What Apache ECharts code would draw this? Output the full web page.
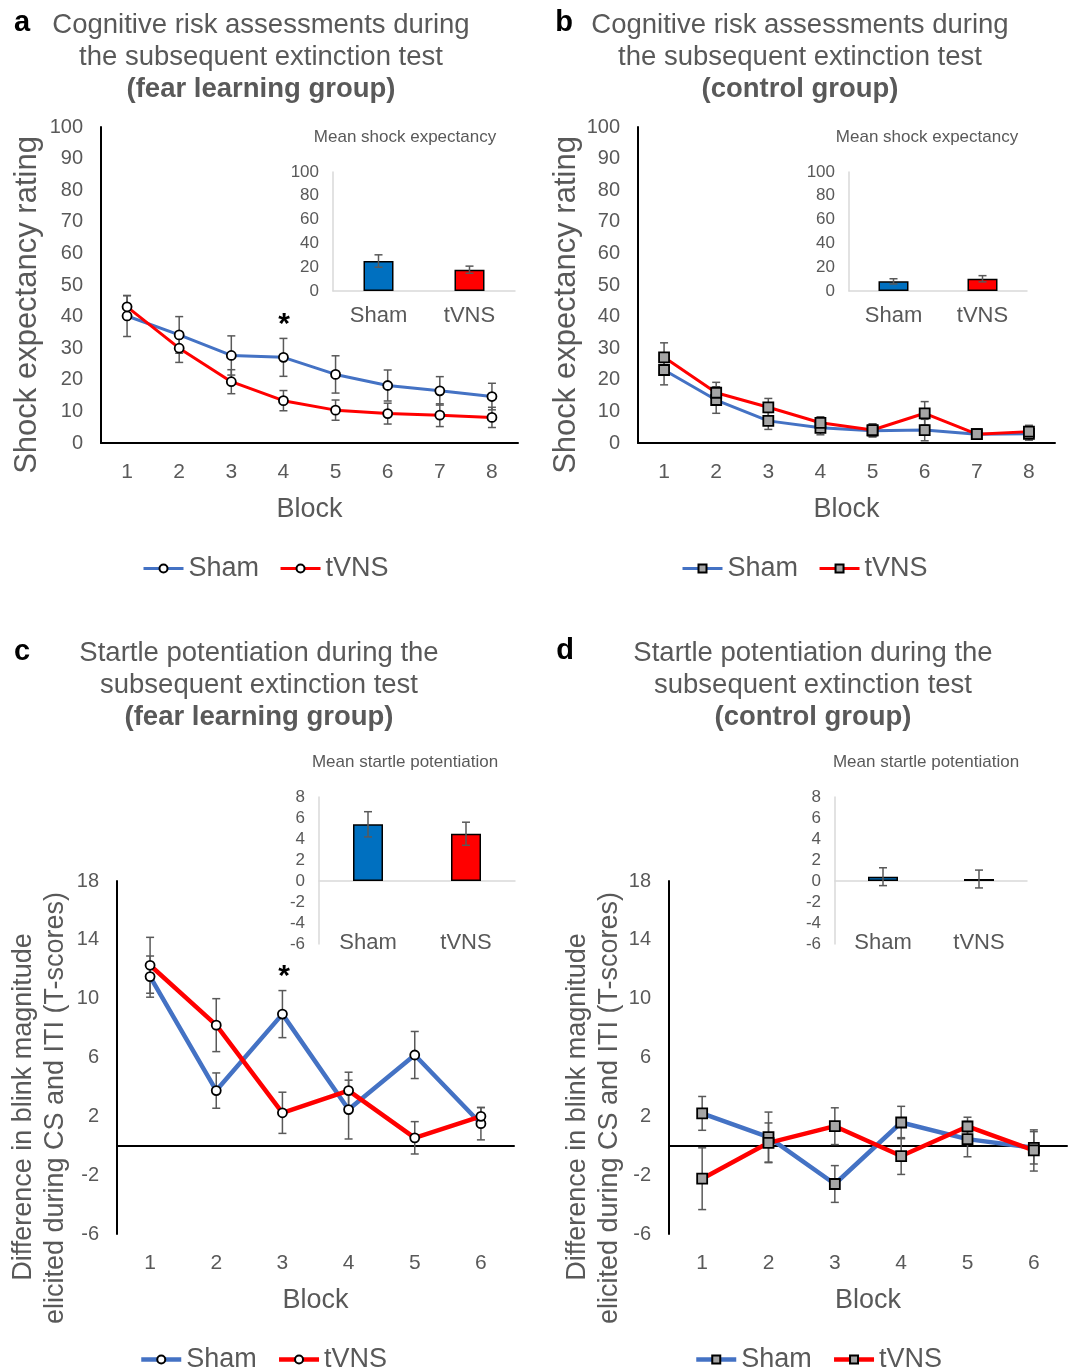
<!DOCTYPE html>
<html>
<head>
<meta charset="utf-8">
<script src="https://cdn.jsdelivr.net/npm/echarts@6/dist/echarts.min.js"></script>
<style>
  html, body { margin: 0; padding: 0; background: #fff; }
  #main { width: 1072px; height: 1370px; }
</style>
</head>
<body>
<div id="main"></div>
<script>
// categories
var blocks8 = ['1', '2', '3', '4', '5', '6', '7', '8'];
var blocks6 = ['1', '2', '3', '4', '5', '6'];
var groups = ['Sham', 'tVNS'];

// a: shock expectancy, fear learning group
var aSham = [40.2, 34.2, 27.7, 27.1, 21.7, 18.2, 16.5, 14.7];
var aShamErr = [6.5, 5.8, 6.2, 6.0, 5.9, 4.9, 4.5, 4.2];
var aTvns = [43.1, 30.0, 19.4, 13.4, 10.4, 9.3, 8.8, 8.1];
var aTvnsErr = [3.5, 4.5, 3.8, 3.2, 3.2, 3.3, 3.6, 3.2];
var aMean = [25.2, 17.9];
var aMeanErr = [5.2, 3.0];

// b: shock expectancy, control group
var bSham = [23.1, 13.6, 7.0, 4.8, 3.9, 4.1, 2.8, 2.9];
var bShamErr = [4.7, 4.2, 2.7, 2.2, 2.0, 3.4, 1.6, 2.0];
var bTvns = [27.1, 15.9, 11.3, 6.4, 4.1, 9.4, 2.8, 3.6];
var bTvnsErr = [4.6, 3.3, 2.8, 1.9, 2.0, 3.7, 1.3, 2.0];
var bMean = [8.1, 10.3];
var bMeanErr = [2.2, 2.6];

// c: startle potentiation, fear learning group
var cSham = [11.5, 3.75, 8.95, 2.46, 6.17, 1.5];
var cShamErr = [1.4, 1.2, 1.6, 2.0, 1.6, 1.1];
var cTvns = [12.27, 8.2, 2.24, 3.75, 0.54, 2.0];
var cTvnsErr = [1.9, 1.8, 1.4, 1.25, 1.1, 0.6];
var cMean = [5.4, 4.5];
var cMeanErr = [1.2, 1.1];

// d: startle potentiation, control group
var dSham = [2.2, 0.59, -2.6, 1.58, 0.45, -0.14];
var dShamErr = [1.15, 1.7, 1.25, 1.1, 1.2, 1.1];
var dTvns = [-2.24, 0.2, 1.33, -0.7, 1.31, -0.32];
var dTvnsErr = [2.1, 1.35, 1.25, 1.25, 0.63, 1.4];
var dMean = [0.41, 0.19];
var dMeanErr = [0.85, 0.85];

var FONT = 'Liberation Sans, Arial, sans-serif';
var GREY = '#595959';
var BLUE = '#4472C4';
var RED = '#FF0000';
var LIGHT = '#D9D9D9';

var chart = echarts.init(document.getElementById('main'), null, { renderer: 'canvas' });

function errData(vals, errs) {
  return vals.map(function (v, i) { return [i, v - errs[i], v + errs[i]]; });
}

function renderErr(params, api) {
  var lo = api.coord([api.value(0), api.value(1)]);
  var hi = api.coord([api.value(0), api.value(2)]);
  var w = 4;
  var st = { stroke: GREY, lineWidth: 1.5 };
  return {
    type: 'group',
    children: [
      { type: 'line', shape: { x1: hi[0], y1: hi[1], x2: lo[0], y2: lo[1] }, style: st },
      { type: 'line', shape: { x1: hi[0] - w, y1: hi[1], x2: hi[0] + w, y2: hi[1] }, style: st },
      { type: 'line', shape: { x1: lo[0] - w, y1: lo[1], x2: lo[0] + w, y2: lo[1] }, style: st }
    ]
  };
}

function errSeries(vals, errs, xi, yi, z) {
  return {
    type: 'custom',
    xAxisIndex: xi,
    yAxisIndex: yi,
    renderItem: renderErr,
    encode: { x: 0, y: [1, 2] },
    data: errData(vals, errs),
    z: z,
    silent: true
  };
}

function lineSeries(name, vals, color, square, width, xi, yi) {
  return {
    name: name,
    type: 'line',
    xAxisIndex: xi,
    yAxisIndex: yi,
    data: vals,
    z: 2,
    symbol: square ? 'rect' : 'circle',
    symbolSize: square ? 10 : 9,
    lineStyle: { color: color, width: width },
    itemStyle: {
      color: square ? '#A5A5A5' : '#FFFFFF',
      borderColor: '#000',
      borderWidth: 1.8
    }
  };
}

function barSeries(vals, xi, yi) {
  var cols = ['#0070C0', RED];
  return {
    type: 'bar',
    xAxisIndex: xi,
    yAxisIndex: yi,
    barWidth: 30,
    z: 2,
    data: vals.map(function (v, i) {
      return { value: v, itemStyle: { color: cols[i], borderColor: '#000', borderWidth: 1.5 } };
    })
  };
}

// axes builders
function mainX(grid, cats, showLine) {
  return {
    type: 'category', gridIndex: grid, data: cats, position: 'bottom',
    axisLine: { show: showLine, onZero: false, lineStyle: { color: '#000', width: 2 } },
    axisTick: { show: false },
    axisLabel: { fontSize: 21, color: GREY, margin: 19, fontFamily: FONT },
    name: 'Block', nameLocation: 'middle', nameGap: 53,
    nameTextStyle: { fontSize: 27, color: GREY, fontFamily: FONT }
  };
}
function zeroX(grid, cats, color, width) {
  return {
    type: 'category', gridIndex: grid, data: cats, position: 'top',
    axisLine: { show: true, onZero: true, lineStyle: { color: color, width: width } },
    axisTick: { show: false },
    axisLabel: { show: false }
  };
}
function insetX(grid, showLine, margin) {
  return {
    type: 'category', gridIndex: grid, data: groups, position: 'bottom',
    axisLine: { show: showLine, onZero: false, lineStyle: { color: LIGHT, width: 1.5 } },
    axisTick: { show: false },
    axisLabel: { fontSize: 22, color: GREY, margin: margin, fontFamily: FONT }
  };
}
function mainY(grid, min, max, step) {
  return {
    type: 'value', gridIndex: grid, min: min, max: max, interval: step,
    axisLine: { show: true, lineStyle: { color: '#000', width: 2 } },
    axisTick: { show: false },
    splitLine: { show: false },
    axisLabel: { fontSize: 20, color: GREY, margin: 18, fontFamily: FONT }
  };
}
function insetY(grid, min, max, step) {
  return {
    type: 'value', gridIndex: grid, min: min, max: max, interval: step,
    axisLine: { show: true, lineStyle: { color: LIGHT, width: 1.5 } },
    axisTick: { show: false },
    splitLine: { show: false },
    axisLabel: { fontSize: 17, color: GREY, margin: 14, fontFamily: FONT }
  };
}

function legendFor(left, top, suffix, lw) {
  return {
    left: left, top: top, padding: 0,
    data: ['Sham' + suffix, 'tVNS' + suffix],
    itemWidth: 40, itemHeight: 10, itemGap: 20,
    lineStyle: { width: lw },
    formatter: function (n) { return n.split('_')[0]; },
    textStyle: { fontSize: 27, color: GREY, fontFamily: FONT },
    selectedMode: false
  };
}

function txt(x, y, s, size, opts) {
  opts = opts || {};
  return {
    type: 'text', x: x, y: y, rotation: opts.rot || 0, silent: true,
    style: {
      text: s,
      font: (opts.bold ? 'bold ' : '') + size + 'px ' + FONT,
      fill: opts.color || GREY,
      textAlign: 'center',
      textVerticalAlign: 'middle'
    }
  };
}

var graphics = [
  txt(22, 23, 'a', 29, { bold: true, color: '#000' }),
  txt(261, 25, 'Cognitive risk assessments during', 27.5),
  txt(261, 57, 'the subsequent extinction test', 27.5),
  txt(261, 89, '(fear learning group)', 27.5, { bold: true }),
  txt(564, 23, 'b', 29, { bold: true, color: '#000' }),
  txt(800, 25, 'Cognitive risk assessments during', 27.5),
  txt(800, 57, 'the subsequent extinction test', 27.5),
  txt(800, 89, '(control group)', 27.5, { bold: true }),
  txt(22, 652, 'c', 29, { bold: true, color: '#000' }),
  txt(259, 653, 'Startle potentiation during the', 27.5),
  txt(259, 685, 'subsequent extinction test', 27.5),
  txt(259, 717, '(fear learning group)', 27.5, { bold: true }),
  txt(565, 651, 'd', 29, { bold: true, color: '#000' }),
  txt(813, 653, 'Startle potentiation during the', 27.5),
  txt(813, 685, 'subsequent extinction test', 27.5),
  txt(813, 717, '(control group)', 27.5, { bold: true }),
  txt(405, 137, 'Mean shock expectancy', 17),
  txt(927, 137, 'Mean shock expectancy', 17),
  txt(405, 762, 'Mean startle potentiation', 17),
  txt(926, 762, 'Mean startle potentiation', 17),
  txt(27, 305, 'Shock expectancy rating', 31, { rot: Math.PI / 2 }),
  txt(566, 305, 'Shock expectancy rating', 31, { rot: Math.PI / 2 }),
  txt(24, 1107, 'Difference in blink magnitude', 27, { rot: Math.PI / 2 }),
  txt(56, 1108, 'elicited during CS and ITI (T-scores)', 27, { rot: Math.PI / 2 }),
  txt(578, 1107, 'Difference in blink magnitude', 27, { rot: Math.PI / 2 }),
  txt(610, 1108, 'elicited during CS and ITI (T-scores)', 27, { rot: Math.PI / 2 }),
  txt(284, 325, '*', 30, { bold: true, color: '#000' }),
  txt(284, 977, '*', 30, { bold: true, color: '#000' })
];

var option = {
  animation: false,
  backgroundColor: '#fff',
  textStyle: { fontFamily: FONT },
  grid: [
    { left: 101, top: 127, width: 417, height: 316 },   // 0 a main
    { left: 638, top: 127, width: 417, height: 316 },   // 1 b main
    { left: 117, top: 881, width: 397, height: 353 },   // 2 c main
    { left: 669, top: 881, width: 398, height: 353 },   // 3 d main
    { left: 333, top: 172, width: 182, height: 119 },   // 4 a inset
    { left: 849, top: 172, width: 178, height: 119 },   // 5 b inset
    { left: 319, top: 797, width: 196, height: 147 },   // 6 c inset
    { left: 835, top: 797, width: 192, height: 147 }    // 7 d inset
  ],
  xAxis: [
    mainX(0, blocks8, true),          // 0
    mainX(1, blocks8, true),          // 1
    mainX(2, blocks6, false),         // 2
    zeroX(2, blocks6, '#000', 2),     // 3
    mainX(3, blocks6, false),         // 4
    zeroX(3, blocks6, '#000', 2),     // 5
    insetX(4, true, 14),              // 6
    insetX(5, true, 14),              // 7
    insetX(6, false, -12),            // 8
    zeroX(6, groups, LIGHT, 1.5),     // 9
    insetX(7, false, -12),            // 10
    zeroX(7, groups, LIGHT, 1.5)      // 11
  ],
  yAxis: [
    mainY(0, 0, 100, 10),
    mainY(1, 0, 100, 10),
    mainY(2, -6, 18, 4),
    mainY(3, -6, 18, 4),
    insetY(4, 0, 100, 20),
    insetY(5, 0, 100, 20),
    insetY(6, -6, 8, 2),
    insetY(7, -6, 8, 2)
  ],
  legend: [
    legendFor(142, 555, '_a', 3),
    legendFor(681, 555, '_b', 3),
    legendFor(139, 1346, '_c', 4.5),
    legendFor(694, 1346, '_d', 4.5)
  ],
  graphic: graphics,
  series: [
    // a
    errSeries(aSham, aShamErr, 0, 0, 1),
    errSeries(aTvns, aTvnsErr, 0, 0, 1),
    lineSeries('Sham_a', aSham, BLUE, false, 3, 0, 0),
    lineSeries('tVNS_a', aTvns, RED, false, 3, 0, 0),
    // b
    errSeries(bSham, bShamErr, 1, 1, 1),
    errSeries(bTvns, bTvnsErr, 1, 1, 1),
    lineSeries('Sham_b', bSham, BLUE, true, 3, 1, 1),
    lineSeries('tVNS_b', bTvns, RED, true, 3, 1, 1),
    // c
    errSeries(cSham, cShamErr, 2, 2, 1),
    errSeries(cTvns, cTvnsErr, 2, 2, 1),
    lineSeries('Sham_c', cSham, BLUE, false, 4.5, 2, 2),
    lineSeries('tVNS_c', cTvns, RED, false, 4.5, 2, 2),
    // d
    errSeries(dSham, dShamErr, 4, 3, 1),
    errSeries(dTvns, dTvnsErr, 4, 3, 1),
    lineSeries('Sham_d', dSham, BLUE, true, 4.5, 4, 3),
    lineSeries('tVNS_d', dTvns, RED, true, 4.5, 4, 3),
    // insets
    barSeries(aMean, 6, 4),
    errSeries(aMean, aMeanErr, 6, 4, 3),
    barSeries(bMean, 7, 5),
    errSeries(bMean, bMeanErr, 7, 5, 3),
    barSeries(cMean, 8, 6),
    errSeries(cMean, cMeanErr, 8, 6, 3),
    barSeries(dMean, 10, 7),
    errSeries(dMean, dMeanErr, 10, 7, 3)
  ]
};

chart.setOption(option);
</script>
</body>
</html>
